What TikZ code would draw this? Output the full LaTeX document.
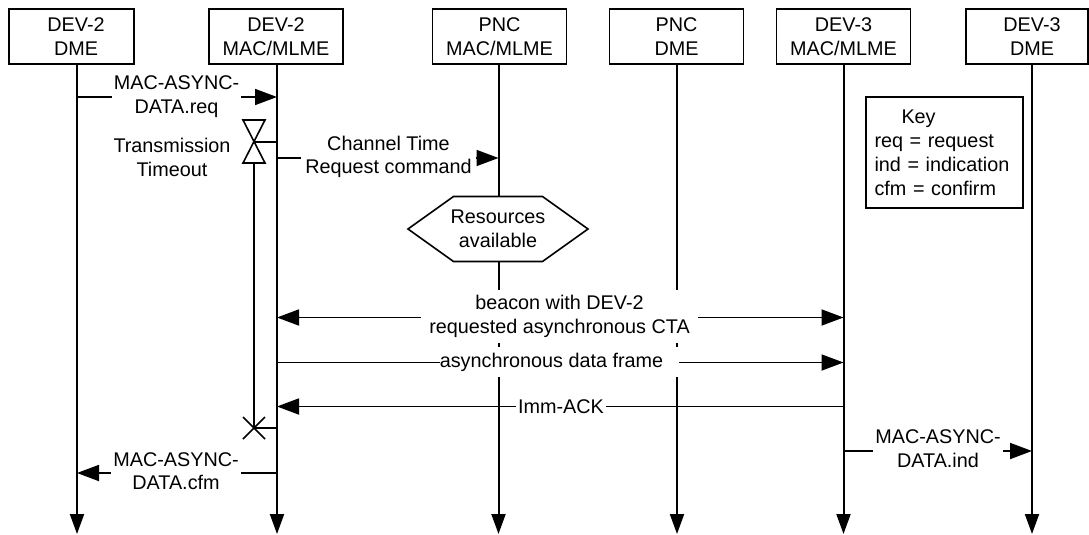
\documentclass[tikz,border=0pt]{standalone}
\usepackage{fontspec}
\setmainfont{Liberation Sans}
\usetikzlibrary{arrows.meta}
\begin{document}
\begin{tikzpicture}[x=1pt,y=-1pt,
  every node/.style={font=\fontsize{19.8}{23.5}\selectfont},
  box/.style={draw, line width=1.6pt, minimum width=134pt, minimum height=55pt, align=center, inner sep=0pt},
  life/.style={line width=2pt, -{Triangle[length=20pt,width=14pt]}},
  msg/.style={line width=1.8pt, -{Triangle[length=22pt,width=16pt]}},
  dmsg/.style={line width=1.8pt, {Triangle[length=22pt,width=16pt]}-{Triangle[length=22pt,width=16pt]}},
  thin/.style={line width=1.6pt},
  lbl/.style={fill=white, align=center, inner xsep=2pt, inner ysep=1pt},
]
\useasboundingbox (0,0) rectangle (1089,535);
% header boxes
\node[box, minimum width=125pt] (b1) at (71.5,36.5) {\hspace*{9pt}DEV-2\\\hspace*{9pt}DME};
\node[box] (b2) at (276,36.5) {DEV-2\\MAC/MLME};
\node[box] (b3) at (499.5,36.5) {PNC\\MAC/MLME};
\node[box] (b4) at (676.5,36.5) {PNC\\DME};
\node[box] (b5) at (843.5,36.5) {DEV-3\\MAC/MLME};
\node[box, minimum width=122pt] (b6) at (1027,36.5) {\hspace*{10pt}DEV-3\\\hspace*{10pt}DME};
% lifeline tops
\coordinate (l1) at (77,64);
\coordinate (l2) at (277,64);
\coordinate (l3) at (498.5,64);
\coordinate (l4) at (677,64);
\coordinate (l5) at (843.5,64);
\coordinate (l6) at (1032,64);
\foreach \l in {l1,l2,l3,l4,l5,l6}
  \draw[life] (\l) -- (\l |- 0,534);
% MAC-ASYNC-DATA.req
\draw[msg] (l1 |- 0,97) -- (l2 |- 0,97);
\node[lbl] (req) at (176.5,96.5) {MAC-ASYNC-\\DATA.req};
% transmission timeout
\coordinate (hg) at (254,142);
\coordinate (xx) at (254,428);
\draw[thin, line join=miter] (243,120) -- (265,120) -- (243,163) -- (265,163) -- cycle;
\draw[thin] (hg) -- (l2 |- hg);
\draw[thin] (254,163) -- (xx);
\draw[thin] (xx) -- (l2 |- xx);
\draw[thin] (243,417) -- (265,439);
\draw[thin] (243,439) -- (265,417);
\node[align=center] (tt) at (172,157.5) {Transmission\\Timeout};
% channel time request
\draw[msg] (l2 |- 0,158) -- (l3 |- 0,158);
\node[lbl, inner xsep=4pt] (ctr) at (388.5,157) {Channel Time\\Request command};
% resources available
\draw[thin, fill=white] (408,229) -- (453.5,196.5) -- (542.5,196.5) -- (588,229) -- (542.5,261.5) -- (453.5,261.5) -- cycle;
\node[align=center] (res) at (498,229) {Resources\\available};
% beacon
\draw[dmsg] (l2 |- 0,317.5) -- (l5 |- 0,317.5);
\node[lbl, minimum width=277pt, minimum height=53pt] (bcn) at (559.5,316.5) {beacon with DEV-2\\requested asynchronous CTA};
% data frame
\draw[msg] (l2 |- 0,362.5) -- (l5 |- 0,362.5);
\node[fill=white, inner sep=0pt, minimum width=239pt, minimum height=30pt] (adf) at (559.5,362) {asynchronous data frame\hspace*{16pt}};
% Imm-ACK
\draw[msg] (l5 |- 0,406.5) -- (l2 |- 0,406.5);
\node[fill=white, inner xsep=2.5pt, inner ysep=1pt] (ack) at (561,406.5) {Imm-ACK};
% ind
\draw[msg] (l5 |- 0,451) -- (l6 |- 0,451);
\node[lbl] (ind) at (938,448.5) {MAC-ASYNC-\\DATA.ind};
% cfm
\draw[msg] (l2 |- 0,473) -- (l1 |- 0,473);
\node[lbl] (cfm) at (176,471) {MAC-ASYNC-\\DATA.cfm};
% key
\node[draw, line width=1.6pt, minimum width=157pt, minimum height=111pt, text width=140pt, align=left, inner xsep=0pt, font=\fontsize{19.8}{24}\selectfont] (key) at (944.5,152.5) {\hspace*{27pt}Key\\req = request\\ind = indication\\cfm = confirm};
\end{tikzpicture}
\end{document}
